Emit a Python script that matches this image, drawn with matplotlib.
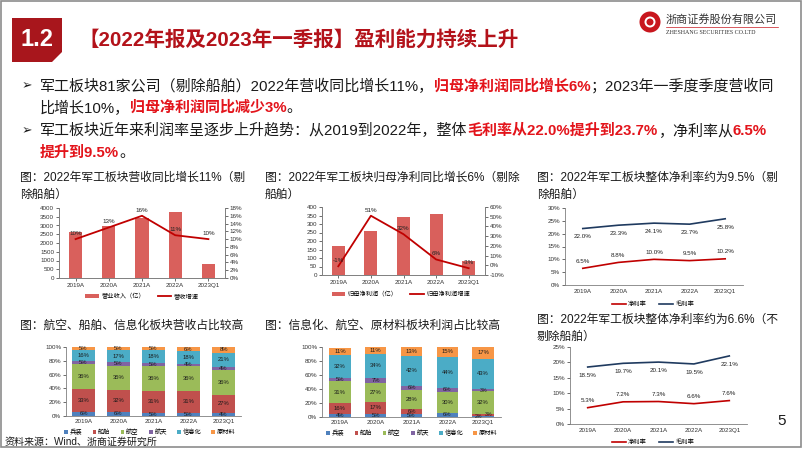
import matplotlib
matplotlib.use('Agg')
import matplotlib.pyplot as plt
import numpy as np
from matplotlib.patches import Polygon, Rectangle, Circle
from matplotlib.lines import Line2D

FONT = ['Liberation Sans', 'Noto Sans CJK SC', 'DejaVu Sans']
plt.rcParams['font.family'] = FONT
plt.rcParams['axes.unicode_minus'] = False

W, H = 802, 451

# ---- data ----
years = ['2019A', '2020A', '2021A', '2022A', '2023Q1']
revenue = [2620, 2950, 3400, 3780, 780]          # 营业收入（亿）
revenue_growth = [10, 13, 16, 11, 10]            # 营收增速 %
profit = [170, 258, 340, 360, 80]                # 归母净利润（亿）
profit_growth = [-1, 51, 32, 6, -3]              # 归母净利润增速 %
gross_margin_ex = [22.0, 23.3, 24.1, 23.7, 25.8]  # 剔除船舶
net_margin_ex = [6.5, 8.8, 10.0, 9.5, 10.2]
gross_margin_all = [18.5, 19.7, 20.1, 19.5, 22.1]  # 不剔除船舶
net_margin_all = [5.3, 7.2, 7.3, 6.6, 7.6]

sectors = ['兵装', '船舶', '航空', '航天', '信息化', '原材料']
sector_colors = ['#4F81BD', '#C0504D', '#9BBB59', '#8064A2', '#4BACC6', '#F79646']
# revenue share by sector, one row per sector, columns follow years
rev_share = [
    [6, 6, 5, 5, 4],
    [33, 32, 31, 31, 27],
    [36, 35, 36, 36, 36],
    [5, 5, 5, 4, 4],
    [16, 17, 18, 18, 21],
    [5, 5, 5, 6, 8],
]
# profit share by sector
profit_share = [
    [4, 5, 5, 6, 2],
    [16, 17, 6, 0, 3],
    [31, 27, 28, 30, 32],
    [5, 7, 6, 6, 3],
    [32, 34, 42, 44, 43],
    [11, 11, 13, 15, 17],
]

BAR = '#D9605C'
DARKRED = '#C00000'
NAVY = '#1F3A5F'
TXT = '#1a1a1a'
RED = '#E3141B'
TICK = 4.5

fig = plt.figure(figsize=(W / 100, H / 100), dpi=100)
fig.patch.set_facecolor('white')

ov = fig.add_axes([0, 0, 1, 1])
ov.set_xlim(0, W)
ov.set_ylim(H, 0)
ov.axis('off')


def px_ax(x0, y0, x1, y1):
    return fig.add_axes([x0 / W, 1 - y1 / H, (x1 - x0) / W, (y1 - y0) / H])


def put_runs(x, y, runs, size):
    r = fig.canvas.get_renderer()
    for s, col, bold in runs:
        t = ov.text(x, y, s, fontsize=size, color=col, va='center', ha='left',
                    fontweight='bold' if bold else 'normal')
        x += t.get_window_extent(r).width


def style(ax, right=False):
    for sp in ax.spines.values():
        sp.set_color('#7f7f7f')
        sp.set_linewidth(0.6)
    ax.spines['top'].set_visible(False)
    if not right:
        ax.spines['right'].set_visible(False)
    ax.tick_params(labelsize=TICK, length=2, width=0.5, pad=1.5, colors='#333333')


pct = lambda v, p: f'{v:.0f}%'

# ---- slide frame and header ----
ov.add_patch(Rectangle((1, 1), W - 2, 446, fill=False, ec='#8c8c8c', lw=1.2))
ov.add_patch(Polygon([(12, 18), (62, 18), (62, 52), (52, 62), (12, 62)],
                     closed=True, fc='#A8161C', ec='none'))
ov.text(37, 39, '1.2', color='white', fontsize=17, fontweight='bold',
        ha='center', va='center')
ov.text(78, 40, '【2022年报及2023年一季报】盈利能力持续上升', color='#B3121A',
        fontsize=14.8, fontweight='bold', ha='left', va='center')

# logo
ov.add_patch(Circle((650, 22), 10.5, fc='#C8161D', ec='none'))
ov.add_patch(Circle((650, 22), 5.5, fc='white', ec='none'))
ov.add_patch(Circle((650, 22), 3.5, fc='#C8161D', ec='none'))
ov.text(666, 19, '浙商证券股份有限公司', fontsize=8, color='#333333', ha='left', va='center')
ov.plot([666, 778], [27, 27], color='#C8161D', lw=0.5)
ov.text(666, 33, 'ZHESHANG SECURITIES CO.LTD', fontsize=4.3, color='#333333',
        family='Liberation Serif', ha='left', va='center')

# bullets
BS = 10.8
ov.text(22, 86, '➢', fontsize=9, color=TXT, family='DejaVu Sans', ha='left', va='center')
ov.text(22, 131, '➢', fontsize=9, color=TXT, family='DejaVu Sans', ha='left', va='center')
put_runs(40, 86, [('军工板块81家公司（剔除船舶）2022年营收同比增长11%，', TXT, False),
                  ('归母净利润同比增长6%', RED, True),
                  ('；2023年一季度季度营收同', TXT, False)], BS)
put_runs(40, 108, [('比增长10%，', TXT, False),
                   ('归母净利润同比减少3%', RED, True),
                   ('。', TXT, False)], BS)
put_runs(40, 131, [('军工板块近年来利润率呈逐步上升趋势：从2019到2022年，整体', TXT, False),
                   ('毛利率从22.0%提升到23.7%', RED, True),
                   ('，净利率从', TXT, False),
                   ('6.5%', RED, True)], BS)
put_runs(40, 153, [('提升到9.5%', RED, True), ('。', TXT, False)], BS)

# chart captions
cap = dict(fontsize=8.5, color=TXT, ha='left', va='center')
ov.text(20, 178, '图：2022年军工板块营收同比增长11%（剔', **cap)
ov.text(20, 195, '除船舶）', **cap)
ov.text(265, 178, '图：2022年军工板块归母净利同比增长6%（剔除', **cap)
ov.text(265, 195, '船舶）', **cap)
ov.text(537, 178, '图：2022年军工板块整体净利率约为9.5%（剔', **cap)
ov.text(537, 195, '除船舶）', **cap)
ov.text(20, 326, '图：航空、船舶、信息化板块营收占比较高', **cap)
ov.text(265, 326, '图：信息化、航空、原材料板块利润占比较高', **cap)
ov.text(537, 320, '图：2022年军工板块整体净利率约为6.6%（不', **cap)
ov.text(537, 337, '剔除船舶）', **cap)

ov.text(5, 442, '资料来源：Wind、浙商证券研究所', fontsize=7.2, color=TXT, ha='left', va='center')
ov.text(782, 421, '5', fontsize=11, color=TXT, ha='center', va='center')

x = np.arange(len(years))


def legend_at(ax, handles, labels, cx, cy, ncol):
    ax.legend(handles, labels, loc='center', bbox_to_anchor=(cx / W, 1 - cy / H),
              bbox_transform=fig.transFigure, ncol=ncol, frameon=False,
              fontsize=TICK, handlelength=2.2, handletextpad=0.4, columnspacing=2.0,
              borderaxespad=0, borderpad=0)


def bar_line(rect, bars, line, ylim, yticks, y2lim, y2ticks, blabel, llabel, leg):
    ax = px_ax(*rect)
    ax.bar(x, bars, 0.4, color=BAR, zorder=2)
    ax.set_xlim(-0.5, 4.5)
    ax.set_ylim(*ylim)
    ax.set_yticks(yticks)
    ax.set_xticks(x, years)
    style(ax, right=True)
    ax2 = ax.twinx()
    ax2.plot(x, line, color=DARKRED, lw=1.3)
    ax2.set_ylim(*y2lim)
    ax2.set_yticks(y2ticks)
    ax2.yaxis.set_major_formatter(pct)
    style(ax2, right=True)
    for i, v in enumerate(line):
        ax2.annotate(f'{v}%', (i, v), xytext=(0, 4), textcoords='offset points',
                     ha='center', va='center', fontsize=TICK, color='#222222')
    hs = [Rectangle((0, 0), 1, 1, fc=BAR), Line2D([], [], color=DARKRED, lw=1.3)]
    legend_at(ax, hs, [blabel, llabel], *leg, 2)


bar_line((59, 208, 225, 278), revenue, revenue_growth, (0, 4000), range(0, 4001, 500),
         (0, 18), range(0, 19, 2), '营业收入（亿）', '营收增速', (142, 296))
bar_line((322, 207, 485, 275), profit, profit_growth, (0, 400), range(0, 401, 50),
         (-10, 60), range(-10, 61, 10), '归母净利润（亿）', '归母净利润增速', (401, 294))


def margin_chart(rect, gross, net, ymax, leg):
    ax = px_ax(*rect)
    ax.plot(x, gross, color=NAVY, lw=1.2)
    ax.plot(x, net, color=DARKRED, lw=1.2)
    ax.set_xlim(-0.5, 4.5)
    ax.set_ylim(0, ymax)
    ax.set_yticks(range(0, ymax + 1, 5))
    ax.yaxis.set_major_formatter(pct)
    ax.set_xticks(x, years)
    style(ax)
    ax.tick_params(axis='x', length=0, pad=3)
    for i in x:
        ax.annotate(f'{gross[i]:.1f}%', (i, gross[i]), xytext=(0, -6), textcoords='offset points',
                    ha='center', va='center', fontsize=TICK, color='#222222')
        ax.annotate(f'{net[i]:.1f}%', (i, net[i]), xytext=(0, 5), textcoords='offset points',
                    ha='center', va='center', fontsize=TICK, color='#222222')
    hs = [Line2D([], [], color=DARKRED, lw=1.2), Line2D([], [], color=NAVY, lw=1.2)]
    legend_at(ax, hs, ['净利率', '毛利率'], *leg, 2)


margin_chart((565, 208, 743, 285), gross_margin_ex, net_margin_ex, 30, (653, 304))
margin_chart((570, 347, 747, 424), gross_margin_all, net_margin_all, 25, (653, 442))


def share_chart(rect, shares, width, leg):
    ax = px_ax(*rect)
    bottom = np.zeros(len(years))
    prev_small = [False] * len(years)
    for name, col, vals in zip(sectors, sector_colors, shares):
        vals = np.array(vals, dtype=float)
        ax.bar(x, vals, width, bottom=bottom, color=col, label=name, zorder=2)
        for i, v in enumerate(vals):
            if v <= 0:
                continue
            small = v < 4
            # two thin neighbouring slices: push the labels apart sideways
            dx = 0.0
            if small and prev_small[i]:
                dx = 0.14
            elif small and i < len(years) and shares[sectors.index(name) + 1][i] < 4 \
                    if sectors.index(name) + 1 < len(sectors) else False:
                dx = -0.14
            ax.text(i + dx, bottom[i] + v / 2, f'{v:.0f}%', ha='center', va='center',
                    fontsize=3.8 if small else 4.2, color='#1a1a1a', zorder=3)
            prev_small[i] = small
        for i, v in enumerate(vals):
            if v <= 0:
                continue
        bottom += vals
    ax.set_xlim(-0.5, 4.5)
    ax.set_ylim(0, 100)
    ax.set_yticks(range(0, 101, 20))
    ax.yaxis.set_major_formatter(pct)
    ax.set_xticks(x, years)
    style(ax)
    ax.tick_params(axis='x', length=0, pad=2)
    hs = [Rectangle((0, 0), 1, 1, fc=c) for c in sector_colors]
    ax.legend(hs, sectors, loc='center', bbox_to_anchor=(leg[0] / W, 1 - leg[1] / H),
              bbox_transform=fig.transFigure, ncol=6, frameon=False, fontsize=TICK,
              handlelength=0.6, handleheight=0.6, handletextpad=0.3, columnspacing=1.6,
              borderaxespad=0, borderpad=0)


share_chart((66, 347, 241, 416), rev_share, 0.65, (150, 432))
share_chart((322, 347, 501, 417), profit_share, 0.6, (412, 433))

fig.savefig('out.png', dpi=100, facecolor='white')
